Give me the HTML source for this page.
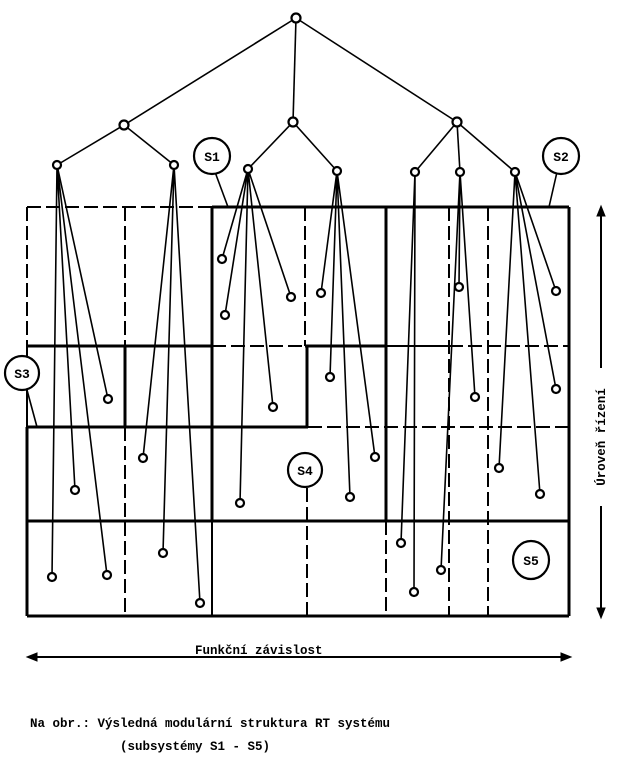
<!DOCTYPE html>
<html><head><meta charset="utf-8"><style>
html,body{margin:0;padding:0;background:#fff;}
svg{display:block}
text{font-family:"Liberation Mono",monospace;font-weight:bold;fill:#000}
</style></head><body>
<svg width="625" height="760" viewBox="0 0 625 760" xmlns="http://www.w3.org/2000/svg">
<g stroke="#000" fill="none" stroke-linecap="butt">
<g stroke-width="3">
<line x1="212" y1="207" x2="569" y2="207"/>
<line x1="27" y1="346" x2="212" y2="346"/>
<line x1="305" y1="346" x2="386" y2="346"/>
<line x1="27" y1="427" x2="308" y2="427"/>
<line x1="27" y1="521" x2="569" y2="521"/>
<line x1="27" y1="616" x2="569" y2="616"/>
<line x1="212" y1="207" x2="212" y2="521"/>
<line x1="386" y1="207" x2="386" y2="521"/>
<line x1="569" y1="207" x2="569" y2="616"/>
<line x1="27" y1="427" x2="27" y2="616"/>
<line x1="125" y1="346" x2="125" y2="427"/>
<line x1="307" y1="346" x2="307" y2="427"/>
</g>
<g stroke-width="2">
<line x1="386" y1="346" x2="449" y2="346"/>
<line x1="27" y1="346" x2="27" y2="427"/>
<line x1="212" y1="521" x2="212" y2="616"/>
</g>
<g stroke-width="2" stroke-dasharray="14,5">
<line x1="27" y1="207" x2="212" y2="207"/>
<line x1="212" y1="346" x2="305" y2="346"/>
<line x1="449" y1="346" x2="569" y2="346"/>
<line x1="308" y1="427" x2="569" y2="427"/>
<line x1="27" y1="207" x2="27" y2="346"/>
<line x1="125" y1="207" x2="125" y2="346"/>
<line x1="125" y1="427" x2="125" y2="616"/>
<line x1="305" y1="207" x2="305" y2="346"/>
<line x1="307" y1="488" x2="307" y2="616"/>
<line x1="386" y1="521" x2="386" y2="616"/>
<line x1="449" y1="207" x2="449" y2="616"/>
<line x1="488" y1="207" x2="488" y2="616"/>
</g>
<g stroke-width="1.6">
<line x1="296" y1="18" x2="124" y2="125"/>
<line x1="296" y1="18" x2="293" y2="122"/>
<line x1="296" y1="18" x2="457" y2="122"/>
<line x1="124" y1="125" x2="57" y2="165"/>
<line x1="124" y1="125" x2="174" y2="165"/>
<line x1="293" y1="122" x2="248" y2="169"/>
<line x1="293" y1="122" x2="337" y2="171"/>
<line x1="457" y1="122" x2="415" y2="172"/>
<line x1="457" y1="122" x2="460" y2="172"/>
<line x1="457" y1="122" x2="515" y2="172"/>
<path d="M57 165L52 577M57 165L75 490M57 165L107 575M57 165L108 399"/>
<path d="M174 165L143 458M174 165L163 553M174 165L200 603"/>
<path d="M248 169L222 259M248 169L225 315M248 169L291 297M248 169L273 407M248 169L240 503"/>
<path d="M337 171L321 293M337 171L330 377M337 171L350 497M337 171L375 457"/>
<path d="M415 172L401 543M415 172L414 592"/>
<path d="M460 172L459 287M460 172L475 397M460 172L441 570"/>
<path d="M515 172L556 291M515 172L556 389M515 172L540 494M515 172L499 468"/>
<line x1="215" y1="172" x2="228" y2="207"/>
<line x1="557" y1="172" x2="549" y2="207"/>
<line x1="27" y1="390" x2="37" y2="427"/>
</g>
<g stroke-width="2.2" fill="#fff">
<circle cx="296" cy="18" r="4.5"/>
<circle cx="124" cy="125" r="4.5"/><circle cx="293" cy="122" r="4.5"/><circle cx="457" cy="122" r="4.5"/>
<circle cx="57" cy="165" r="4"/><circle cx="174" cy="165" r="4"/><circle cx="248" cy="169" r="4"/><circle cx="337" cy="171" r="4"/>
<circle cx="415" cy="172" r="4"/><circle cx="460" cy="172" r="4"/><circle cx="515" cy="172" r="4"/>
<circle cx="52" cy="577" r="4"/><circle cx="75" cy="490" r="4"/><circle cx="107" cy="575" r="4"/><circle cx="108" cy="399" r="4"/>
<circle cx="143" cy="458" r="4"/><circle cx="163" cy="553" r="4"/><circle cx="200" cy="603" r="4"/>
<circle cx="222" cy="259" r="4"/><circle cx="225" cy="315" r="4"/><circle cx="291" cy="297" r="4"/><circle cx="273" cy="407" r="4"/><circle cx="240" cy="503" r="4"/>
<circle cx="321" cy="293" r="4"/><circle cx="330" cy="377" r="4"/><circle cx="350" cy="497" r="4"/><circle cx="375" cy="457" r="4"/>
<circle cx="401" cy="543" r="4"/><circle cx="414" cy="592" r="4"/>
<circle cx="459" cy="287" r="4"/><circle cx="475" cy="397" r="4"/><circle cx="441" cy="570" r="4"/>
<circle cx="556" cy="291" r="4"/><circle cx="556" cy="389" r="4"/><circle cx="540" cy="494" r="4"/><circle cx="499" cy="468" r="4"/>
<circle cx="212" cy="156" r="18"/>
<circle cx="561" cy="156" r="18"/>
<circle cx="22" cy="373" r="17"/>
<circle cx="305" cy="470" r="17"/>
<ellipse cx="531" cy="560" rx="18" ry="19"/>
</g>
<g stroke-width="2">
<line x1="601" y1="212" x2="601" y2="612"/>
<line x1="32" y1="657" x2="566" y2="657"/>
</g>
<g fill="#000">
<path d="M601 206L597 216L605 216Z"/>
<path d="M601 618L597 608L605 608Z"/>
<path d="M27 657L37 653L37 661Z"/>
<path d="M571 657L561 653L561 661Z"/>
</g>
</g>
<rect x="593" y="368" width="16" height="138" fill="#fff"/>
<g font-size="13">
<text x="212" y="161" text-anchor="middle">S1</text>
<text x="561" y="161" text-anchor="middle">S2</text>
<text x="22" y="378" text-anchor="middle">S3</text>
<text x="305" y="475" text-anchor="middle">S4</text>
<text x="531" y="565" text-anchor="middle">S5</text>
<text x="195" y="654" font-size="12.5">Funkční závislost</text>
<text x="605" y="437" text-anchor="middle" transform="rotate(-90 605 437)" font-size="12.5">Úroveň řízení</text>
<text x="30" y="727" font-size="12.5">Na obr.: Výsledná modulární struktura RT systému</text>
<text x="120" y="750" font-size="12.5">(subsystémy S1 - S5)</text>
</g>
</svg>
</body></html>
